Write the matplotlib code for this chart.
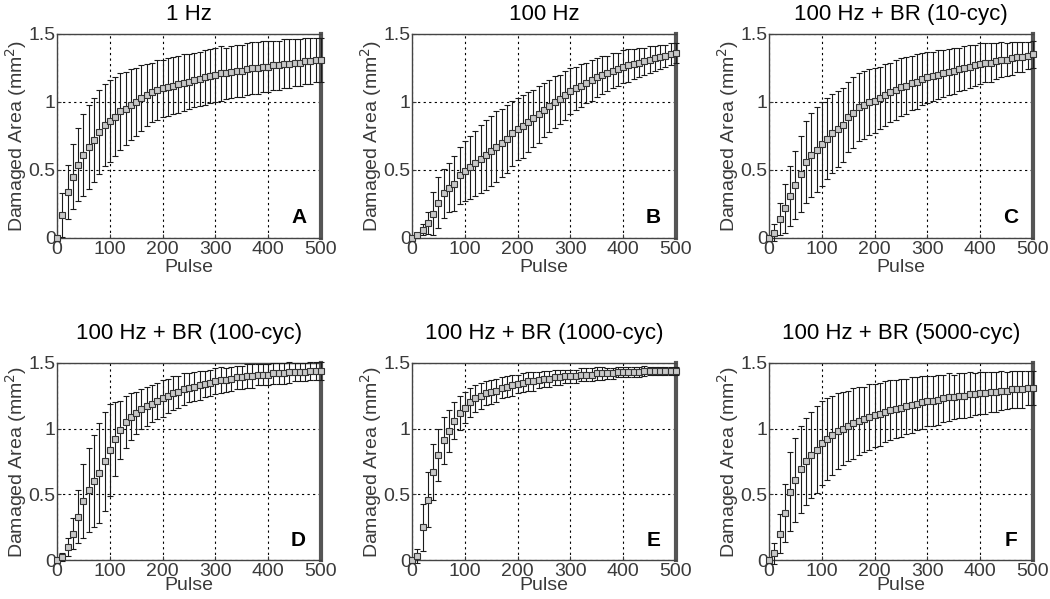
"""Damaged area vs. pulse number for six stimulation protocols (2x3 panels)."""

import matplotlib

matplotlib.use("Agg")
import matplotlib.pyplot as plt
import numpy as np

plt.rcParams["font.family"] = ["Liberation Sans", "DejaVu Sans"]

pulses = list(range(0, 501, 10))

titles = ["1 Hz", "100 Hz", "100 Hz + BR (10-cyc)",
          "100 Hz + BR (100-cyc)", "100 Hz + BR (1000-cyc)", "100 Hz + BR (5000-cyc)"]
letters = ["A", "B", "C", "D", "E", "F"]

mean_a = [0.00, 0.17, 0.34, 0.45, 0.54, 0.61, 0.67, 0.72, 0.78, 0.83,
          0.86, 0.89, 0.93, 0.95, 0.98, 1.00, 1.03, 1.05, 1.07, 1.09,
          1.10, 1.11, 1.12, 1.13, 1.14, 1.15, 1.16, 1.17, 1.18, 1.19,
          1.20, 1.21, 1.21, 1.22, 1.23, 1.23, 1.24, 1.25, 1.25, 1.26,
          1.26, 1.27, 1.27, 1.28, 1.28, 1.29, 1.29, 1.30, 1.30, 1.31, 1.31]
err_a = [0.00, 0.16, 0.20, 0.24, 0.27, 0.30, 0.31, 0.31, 0.31, 0.30,
         0.30, 0.29, 0.28, 0.27, 0.26, 0.25, 0.24, 0.23, 0.22, 0.22,
         0.21, 0.21, 0.21, 0.21, 0.21, 0.20, 0.20, 0.20, 0.20, 0.20,
         0.20, 0.20, 0.19, 0.19, 0.19, 0.19, 0.19, 0.19, 0.19, 0.19,
         0.19, 0.18, 0.18, 0.18, 0.18, 0.17, 0.17, 0.17, 0.17, 0.16, 0.16]

mean_b = [0.00, 0.02, 0.06, 0.11, 0.18, 0.26, 0.33, 0.37, 0.40, 0.46,
          0.49, 0.52, 0.55, 0.58, 0.61, 0.64, 0.67, 0.70, 0.73, 0.77,
          0.80, 0.82, 0.85, 0.88, 0.91, 0.94, 0.97, 1.00, 1.02, 1.05,
          1.08, 1.10, 1.12, 1.14, 1.16, 1.18, 1.20, 1.21, 1.23, 1.24,
          1.26, 1.27, 1.28, 1.29, 1.30, 1.31, 1.32, 1.33, 1.34, 1.35, 1.36]
err_b = [0.00, 0.02, 0.04, 0.08, 0.16, 0.19, 0.18, 0.18, 0.20, 0.21,
         0.22, 0.23, 0.24, 0.25, 0.26, 0.26, 0.26, 0.25, 0.25, 0.24,
         0.23, 0.23, 0.22, 0.21, 0.21, 0.20, 0.19, 0.19, 0.18, 0.18,
         0.17, 0.16, 0.16, 0.15, 0.15, 0.14, 0.14, 0.13, 0.13, 0.12,
         0.12, 0.12, 0.11, 0.11, 0.10, 0.10, 0.09, 0.09, 0.08, 0.08, 0.07]

mean_c = [0.00, 0.04, 0.14, 0.22, 0.31, 0.39, 0.47, 0.56, 0.61, 0.65,
          0.69, 0.73, 0.77, 0.80, 0.83, 0.89, 0.92, 0.96, 0.98, 1.00,
          1.01, 1.03, 1.05, 1.07, 1.09, 1.11, 1.12, 1.14, 1.15, 1.17,
          1.18, 1.19, 1.20, 1.21, 1.22, 1.23, 1.24, 1.25, 1.26, 1.27,
          1.28, 1.29, 1.29, 1.30, 1.31, 1.31, 1.32, 1.33, 1.33, 1.34, 1.35]
err_c = [0.00, 0.06, 0.12, 0.18, 0.22, 0.25, 0.28, 0.30, 0.31, 0.31,
         0.31, 0.30, 0.29, 0.28, 0.27, 0.26, 0.26, 0.25, 0.25, 0.24,
         0.24, 0.23, 0.23, 0.22, 0.22, 0.21, 0.21, 0.20, 0.20, 0.19,
         0.19, 0.18, 0.18, 0.17, 0.17, 0.17, 0.16, 0.16, 0.16, 0.15,
         0.15, 0.14, 0.14, 0.13, 0.13, 0.12, 0.12, 0.11, 0.11, 0.10, 0.10]

mean_d = [0.00, 0.02, 0.10, 0.20, 0.33, 0.45, 0.53, 0.60, 0.66, 0.75,
          0.84, 0.92, 0.99, 1.05, 1.09, 1.12, 1.15, 1.17, 1.19, 1.21,
          1.23, 1.25, 1.27, 1.28, 1.30, 1.31, 1.32, 1.33, 1.34, 1.35,
          1.36, 1.37, 1.37, 1.38, 1.39, 1.39, 1.40, 1.40, 1.41, 1.41,
          1.41, 1.42, 1.42, 1.42, 1.43, 1.43, 1.43, 1.43, 1.44, 1.44, 1.44]
err_d = [0.00, 0.03, 0.07, 0.12, 0.20, 0.28, 0.32, 0.35, 0.38, 0.38,
         0.35, 0.28, 0.22, 0.20, 0.18, 0.16, 0.15, 0.15, 0.14, 0.14,
         0.14, 0.13, 0.13, 0.12, 0.12, 0.11, 0.11, 0.11, 0.10, 0.10,
         0.10, 0.10, 0.09, 0.09, 0.09, 0.09, 0.09, 0.09, 0.08, 0.08,
         0.08, 0.08, 0.08, 0.08, 0.08, 0.07, 0.07, 0.07, 0.07, 0.07, 0.07]

mean_e = [0.00, 0.03, 0.25, 0.46, 0.67, 0.80, 0.91, 0.98, 1.06, 1.12,
          1.16, 1.20, 1.23, 1.25, 1.27, 1.28, 1.29, 1.31, 1.32, 1.33,
          1.34, 1.35, 1.36, 1.36, 1.37, 1.38, 1.38, 1.39, 1.39, 1.40,
          1.40, 1.40, 1.41, 1.41, 1.41, 1.42, 1.42, 1.42, 1.42, 1.43,
          1.43, 1.43, 1.43, 1.43, 1.44, 1.44, 1.44, 1.44, 1.44, 1.44, 1.44]
err_e = [0.00, 0.05, 0.18, 0.21, 0.21, 0.20, 0.18, 0.16, 0.14, 0.13,
         0.12, 0.11, 0.10, 0.10, 0.09, 0.09, 0.09, 0.08, 0.08, 0.08,
         0.07, 0.07, 0.07, 0.07, 0.06, 0.06, 0.06, 0.06, 0.06, 0.05,
         0.05, 0.05, 0.05, 0.05, 0.05, 0.05, 0.05, 0.04, 0.04, 0.04,
         0.04, 0.04, 0.04, 0.04, 0.04, 0.03, 0.03, 0.03, 0.03, 0.03, 0.03]

mean_f = [0.00, 0.05, 0.20, 0.36, 0.52, 0.61, 0.69, 0.75, 0.80, 0.84,
          0.89, 0.92, 0.95, 0.98, 1.00, 1.02, 1.04, 1.06, 1.07, 1.09,
          1.10, 1.11, 1.13, 1.14, 1.15, 1.16, 1.17, 1.18, 1.19, 1.20,
          1.21, 1.21, 1.22, 1.23, 1.24, 1.24, 1.25, 1.25, 1.26, 1.26,
          1.27, 1.27, 1.28, 1.28, 1.29, 1.29, 1.30, 1.30, 1.30, 1.31, 1.31]
err_f = [0.00, 0.08, 0.15, 0.22, 0.30, 0.32, 0.33, 0.33, 0.33, 0.33,
         0.32, 0.31, 0.30, 0.29, 0.28, 0.27, 0.27, 0.26, 0.25, 0.25,
         0.24, 0.24, 0.23, 0.23, 0.22, 0.22, 0.21, 0.21, 0.20, 0.20,
         0.19, 0.19, 0.19, 0.18, 0.18, 0.17, 0.17, 0.17, 0.17, 0.16,
         0.16, 0.16, 0.15, 0.15, 0.15, 0.14, 0.14, 0.14, 0.14, 0.13, 0.13]

means = [mean_a, mean_b, mean_c, mean_d, mean_e, mean_f]
errs = [err_a, err_b, err_c, err_d, err_e, err_f]

# axes boxes in figure fractions: [left, bottom, width, height]
col_left = [0.0543, 0.3924, 0.7324]
row_box = [(0.6027, 0.3406), (0.0651, 0.3290)]
title_pad = [10, 17]
xlabel_pad = [1, -2]

fig = plt.figure(figsize=(10.5, 5.99), dpi=100)

for i in range(6):
    r, c = divmod(i, 3)
    ax = fig.add_axes([col_left[c], row_box[r][0], 0.2514, row_box[r][1]])
    ax.errorbar(pulses, means[i], yerr=errs[i], fmt="s", ms=4,
                mfc="#c8c8c8", mec="#333333", mew=0.8,
                ecolor="#1a1a1a", elinewidth=0.8, capsize=2.5, capthick=0.8,
                clip_on=False, zorder=3)
    ax.set_xlim(0, 500)
    ax.set_ylim(0, 1.5)
    ax.set_xticks([0, 100, 200, 300, 400, 500])
    ax.set_yticks([0, 0.5, 1, 1.5])
    ax.set_yticklabels(["0", "0.5", "1", "1.5"])
    ax.tick_params(direction="in", length=3, labelsize=14, colors="#3a3a3a")
    ax.tick_params(axis="x", pad=2)
    ax.tick_params(axis="y", pad=1)
    ax.grid(True, color="black", linestyle=(0, (2, 3)), linewidth=0.8)
    for side in ["left", "top", "bottom"]:
        ax.spines[side].set_color("#444444")
        ax.spines[side].set_linewidth(1.0)
    ax.spines["right"].set_color("#555555")
    ax.spines["right"].set_linewidth(3.0)
    ax.set_xlabel("Pulse", fontsize=14, color="#3a3a3a", labelpad=xlabel_pad[r])
    ax.set_ylabel("Damaged Area (mm$^2$)", fontsize=14, color="#3a3a3a",
                  labelpad=0)
    ax.set_title(titles[i], fontsize=16, pad=title_pad[r])
    ax.text(0.915, 0.10, letters[i], transform=ax.transAxes, ha="center",
            va="center", fontsize=15, fontweight="bold")

fig.savefig("out.png", dpi=100)
